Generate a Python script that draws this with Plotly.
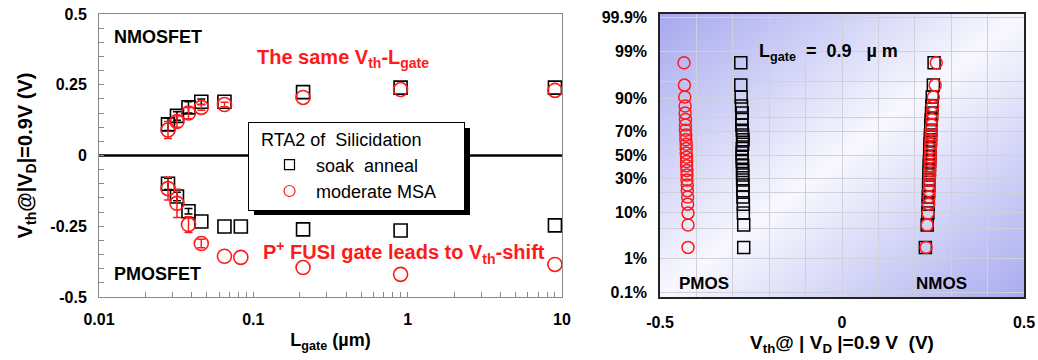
import base64
from statistics import NormalDist
import plotly.graph_objects as go
from plotly.subplots import make_subplots

# ---------------- data: left panel (Vth vs Lgate) ----------------
L_nmos = [0.028, 0.032, 0.038, 0.046, 0.065, 0.21, 0.9, 9.0]
V_nmos_soak = [0.11, 0.14, 0.17, 0.19, 0.19, 0.224, 0.24, 0.24]
E_nmos_soak = [0.022, 0.015, 0.02, 0.01]          # error bars of the first points
V_nmos_msa = [0.09, 0.12, 0.15, 0.17, 0.18, 0.205, 0.233, 0.23]
E_nmos_msa = [0.03, 0.02, 0.02, 0.01, 0.008]

L_pmos = [0.028, 0.032, 0.038, 0.046, 0.065, 0.083, 0.21, 0.9, 9.0]
V_pmos_soak = [-0.10, -0.145, -0.197, -0.233, -0.251, -0.251, -0.261, -0.265, -0.247]
E_pmos_soak = [0.02, 0.015, 0.01]
V_pmos_msa = [-0.117, -0.169, -0.244, -0.311, -0.356, -0.36, -0.396, -0.42, -0.385]
E_pmos_msa = [0.04, 0.05, 0.028, 0.015]

# ---------------- data: right panel (cumulative probability) ----------------
cum_pct = [1.9, 5.8, 9.6, 13.5, 17.3, 21.2, 25.0, 28.8, 32.7, 36.5, 40.4, 44.2, 48.1,
           51.9, 55.8, 59.6, 63.5, 67.3, 71.2, 75.0, 78.8, 82.7, 86.5, 90.4, 94.2, 98.1]
vth_pmos_msa = [-0.423, -0.423, -0.423, -0.424, -0.424, -0.425, -0.425, -0.426, -0.426, -0.426,
                -0.427, -0.427, -0.427, -0.428, -0.428, -0.428, -0.429, -0.429, -0.430, -0.430,
                -0.430, -0.431, -0.431, -0.432, -0.433, -0.434]
vth_pmos_soak = [-0.270, -0.270, -0.271, -0.271, -0.272, -0.272, -0.272, -0.273, -0.273, -0.273,
                 -0.273, -0.274, -0.274, -0.274, -0.274, -0.273, -0.272, -0.273, -0.274, -0.275,
                 -0.275, -0.274, -0.276, -0.277, -0.278, -0.278]
vth_nmos_soak = [0.229, 0.234, 0.236, 0.237, 0.237, 0.238, 0.238, 0.239, 0.239, 0.240,
                 0.240, 0.240, 0.241, 0.241, 0.242, 0.242, 0.243, 0.243, 0.244, 0.244,
                 0.245, 0.246, 0.247, 0.248, 0.251, 0.253]
vth_nmos_msa = [0.231, 0.234, 0.236, 0.238, 0.239, 0.239, 0.240, 0.240, 0.241, 0.241,
                0.242, 0.242, 0.242, 0.243, 0.243, 0.244, 0.244, 0.245, 0.245, 0.246,
                0.247, 0.248, 0.249, 0.251, 0.256, 0.259]

prob_ticks = [0.1, 1, 5, 10, 20, 30, 50, 70, 80, 90, 95, 99, 99.9]
prob_labels = ["0.1%", "1%", "", "10%", "", "30%", "50%", "70%", "", "90%", "", "99%", "99.9%"]
x2_ticks = [-0.5, -0.4, -0.3, -0.2, -0.1, 0, 0.1, 0.2, 0.3, 0.4, 0.5]
x2_labels = ["-0.5", "", "", "", "", "0", "", "", "", "", "0.5"]
x1_ticks = [0.01, 0.02, 0.03, 0.04, 0.05, 0.06, 0.07, 0.08, 0.09,
            0.1, 0.2, 0.3, 0.4, 0.5, 0.6, 0.7, 0.8, 0.9,
            1, 2, 3, 4, 5, 6, 7, 8, 9, 10]
x1_labels = ["0.01"] + [""] * 8 + ["0.1"] + [""] * 8 + ["1"] + [""] * 8 + ["10"]
y1_ticks = [-0.5, -0.25, 0, 0.25, 0.5]
y1_labels = ["-0.5", "-0.25", "0", "0.25", "0.5"]

RED = "#ff1a1a"
FONT = "Arial, Liberation Sans, sans-serif"


def z(p):
    return NormalDist().inv_cdf(p / 100.0)


cum_z = [z(p) for p in cum_pct]
prob_z = [z(p) for p in prob_ticks]

# ---------------- layout geometry (pixels) ----------------
W, H = 1038, 360
ML, MR, MT, MB = 99, 14, 14, 63
PW, PH = W - ML - MR, H - MT - MB


def px(xp):
    return (xp - ML) / PW


def py(yp):
    return (H - MB - yp) / PH


fig = make_subplots(rows=1, cols=2)

# legend-only entries
fig.add_trace(go.Scatter(x=[None], y=[None], mode="markers", name="soak  anneal",
                         marker=dict(symbol="square-open", size=10, color="black",
                                     line=dict(width=1.2, color="black"))), 1, 1)
fig.add_trace(go.Scatter(x=[None], y=[None], mode="markers", name="moderate MSA",
                         marker=dict(symbol="circle-open", size=11, color=RED,
                                     line=dict(width=1.2, color=RED))), 1, 1)


def err(arr, color):
    return dict(type="data", array=arr, visible=True, color=color, thickness=1.5, width=4)


sq = dict(symbol="square-open", size=13, color="black", line=dict(width=1.6, color="black"))
ci = dict(symbol="circle-open", size=14, color=RED, line=dict(width=1.6, color=RED))


def add_series(xs, ys, es, marker, color):
    n = len(es)
    fig.add_trace(go.Scatter(x=xs[:n], y=ys[:n], mode="markers", marker=marker,
                             error_y=err(es, color), showlegend=False), 1, 1)
    fig.add_trace(go.Scatter(x=xs[n:], y=ys[n:], mode="markers", marker=marker,
                             showlegend=False), 1, 1)


add_series(L_nmos, V_nmos_soak, E_nmos_soak, sq, "black")
add_series(L_pmos, V_pmos_soak, E_pmos_soak, sq, "black")
add_series(L_nmos, V_nmos_msa, E_nmos_msa, ci, RED)
add_series(L_pmos, V_pmos_msa, E_pmos_msa, ci, RED)

sq2 = dict(symbol="square-open", size=12, color="black", line=dict(width=1.5, color="black"))
ci2 = dict(symbol="circle-open", size=12, color=RED, line=dict(width=1.5, color=RED))
fig.add_trace(go.Scatter(x=vth_pmos_soak, y=cum_z, mode="markers", marker=sq2, showlegend=False), 1, 2)
fig.add_trace(go.Scatter(x=vth_nmos_soak, y=cum_z, mode="markers", marker=sq2, showlegend=False), 1, 2)
fig.add_trace(go.Scatter(x=vth_pmos_msa, y=cum_z, mode="markers", marker=ci2, showlegend=False), 1, 2)
fig.add_trace(go.Scatter(x=vth_nmos_msa, y=cum_z, mode="markers", marker=ci2, showlegend=False), 1, 2)

tickfont = dict(family=FONT, size=16, color="black", weight="bold")
titlefont = dict(family=FONT, size=18, color="black", weight="bold")

fig.update_xaxes(type="log", range=[-2, 1], domain=[0, px(562)],
                 tickmode="array", tickvals=x1_ticks, ticktext=x1_labels,
                 ticks="inside", ticklen=5, tickcolor="#888888", tickwidth=1,
                 showline=True, linecolor="#888888", linewidth=1, mirror=True,
                 showgrid=False, zeroline=False, tickfont=tickfont, ticklabelstandoff=8,
                 title=dict(text="L<sub>gate</sub> (µm)", standoff=6, font=titlefont),
                 row=1, col=1)
fig.update_yaxes(range=[-0.5, 0.5], tickmode="array", tickvals=y1_ticks, ticktext=y1_labels,
                 ticks="inside", ticklen=5, tickcolor="#888888",
                 minor=dict(dtick=0.05, tick0=0, ticks="inside", ticklen=5, tickcolor="#888888"),
                 showline=True, linecolor="#888888", linewidth=1, mirror=True,
                 showgrid=False, zeroline=False, tickfont=tickfont, ticklabelstandoff=8,
                 title=dict(text="V<sub>th</sub>@|V<sub>D</sub>|=0.9V (V)", standoff=12,
                            font=dict(family=FONT, size=20, color="black", weight="bold")),
                 row=1, col=1)

fig.update_xaxes(range=[-0.5, 0.5], domain=[px(660), 1.0],
                 tickmode="array", tickvals=x2_ticks, ticktext=x2_labels, ticks="",
                 showline=True, linecolor="#222222", linewidth=1.5, mirror=True,
                 showgrid=True, gridcolor="#cfd0dc", gridwidth=1, zeroline=False,
                 tickfont=tickfont, ticklabelstandoff=10,
                 title=dict(text="V<sub>th</sub>@ | V<sub>D</sub> |=0.9 V  (V)", standoff=6,
                            font=dict(family=FONT, size=19, color="black", weight="bold")),
                 row=1, col=2)
fig.update_yaxes(range=[-3.19, 3.17], tickmode="array", tickvals=prob_z, ticktext=prob_labels,
                 ticks="", showline=True, linecolor="#222222", linewidth=1.5, mirror=True,
                 showgrid=True, gridcolor="#cfd0dc", gridwidth=1, zeroline=False,
                 tickfont=tickfont, ticklabelstandoff=8, row=1, col=2)
fig.update_xaxes(automargin=False)
fig.update_yaxes(automargin=False)

# gradient background for the probability panel
svg = ('<svg xmlns="http://www.w3.org/2000/svg" width="200" height="200" viewBox="0 0 200 200" '
       'preserveAspectRatio="none"><defs><linearGradient id="g" x1="0" y1="0" x2="1" y2="1">'
       '<stop offset="0" stop-color="#a6a8ee"/><stop offset="0.5" stop-color="#f8f8fe"/>'
       '<stop offset="1" stop-color="#aaacef"/></linearGradient></defs>'
       '<rect width="200" height="200" fill="url(#g)"/></svg>')
src = "data:image/svg+xml;base64," + base64.b64encode(svg.encode()).decode()
fig.add_layout_image(dict(source=src, xref="x2 domain", yref="y2 domain", x=0, y=1,
                          sizex=1, sizey=1, xanchor="left", yanchor="top",
                          sizing="stretch", layer="below"))

# zero line on left panel
fig.add_shape(type="line", xref="x domain", yref="y", x0=0, x1=1, y0=0, y1=0,
              line=dict(color="black", width=2.5), layer="below")

# legend shadow
fig.add_shape(type="rect", xref="paper", yref="paper",
              x0=px(254), x1=px(470), y0=py(215), y1=py(128),
              fillcolor="black", line=dict(width=0), layer="above")

bold = dict(family=FONT, size=18, color="black", weight="bold")
redb = dict(family=FONT, size=20, color=RED, weight="bold")
lab = dict(family=FONT, size=17, color="black", weight="bold")
ann = [
    dict(text="NMOSFET", x=px(112), y=py(37), font=bold),
    dict(text="PMOSFET", x=px(112), y=py(274), font=bold),
    dict(text="The same V<sub>th</sub>-L<sub>gate</sub>", x=px(255), y=py(58), font=redb),
    dict(text="P<sup>+</sup> FUSI gate leads to V<sub>th</sub>-shift", x=px(261), y=py(252), font=redb),
    dict(text="PMOS", x=px(677), y=py(283), font=lab),
    dict(text="NMOS", x=px(914), y=py(283), font=lab),
    dict(text="L<sub>gate</sub>  =  0.9   µ m", x=px(757), y=py(53), font=bold),
]
for a in ann:
    fig.add_annotation(xref="paper", yref="paper", xanchor="left", yanchor="middle",
                       showarrow=False, **a)

NB = "\u00a0"
fig.update_layout(
    width=W, height=H, margin=dict(l=ML, r=MR, t=MT, b=MB, autoexpand=False),
    paper_bgcolor="white", plot_bgcolor="white",
    font=dict(family=FONT, color="black"),
    showlegend=True,
    legend=dict(x=px(248), y=py(122), xanchor="left", yanchor="top",
                bgcolor="white", bordercolor="black", borderwidth=1,
                font=dict(family=FONT, size=18, color="black"),
                title=dict(text=NB * 2 + "RTA2 of  Silicidation" + NB * 8, side="top",
                           font=dict(family=FONT, size=18, color="black")),
                indentation=14, tracegroupgap=0, itemwidth=43),
)

fig.write_html("out.html", config={"displayModeBar": False},
               post_script="document.body.style.margin='0';")
